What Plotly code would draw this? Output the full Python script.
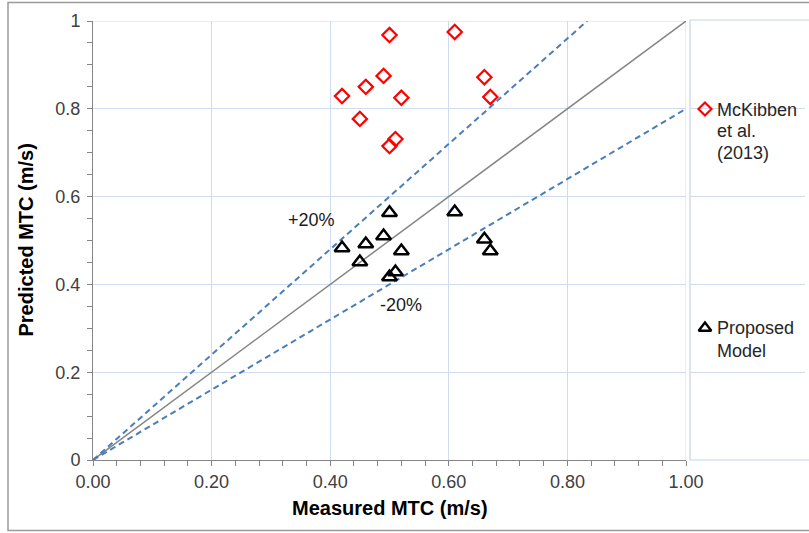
import plotly.graph_objects as go

# ---- data ----
measured = [0.42, 0.46, 0.49, 0.50, 0.45, 0.52, 0.50, 0.51, 0.61, 0.66, 0.67]
mckibben = [0.829, 0.850, 0.875, 0.968, 0.777, 0.825, 0.715, 0.731, 0.975, 0.872, 0.827]
proposed = [0.483, 0.492, 0.510, 0.563, 0.451, 0.476, 0.417, 0.428, 0.565, 0.503, 0.476]

parity_x = [0.0, 1.0]
parity_y = [0.0, 1.0]
upper_x = [0.0, 0.8333]
upper_y = [0.0, 1.0]
lower_x = [0.0, 1.0]
lower_y = [0.0, 0.8]

legend_names = ["McKibben<br>et al.<br>(2013)", "Proposed<br>Model"]
x_ticks = [0.0, 0.2, 0.4, 0.6, 0.8, 1.0]
y_ticks = [0.0, 0.2, 0.4, 0.6, 0.8, 1.0]

FONT = "Liberation Sans, Arial, sans-serif"
W, H = 809, 533
ML, MR, MT, MB = 93, 4, 21, 73
PW = W - ML - MR
PH = H - MT - MB
XDOM = 593 / PW

def px_x(p):
    return (p - ML) / PW

def px_y(p):
    return (H - MB - p) / PH

fig = go.Figure()

fig.add_trace(go.Scatter(x=parity_x, y=parity_y, mode="lines",
                         line=dict(color="#868686", width=1.5), showlegend=False, hoverinfo="skip"))
fig.add_trace(go.Scatter(x=upper_x, y=upper_y, mode="lines",
                         line=dict(color="#4a7ebb", width=2, dash="6px,4px"), showlegend=False, hoverinfo="skip"))
fig.add_trace(go.Scatter(x=lower_x, y=lower_y, mode="lines",
                         line=dict(color="#4a7ebb", width=2, dash="6px,4px"), showlegend=False, hoverinfo="skip"))

fig.add_trace(go.Scatter(x=measured, y=mckibben, mode="markers", name="McKibben et al. (2013)",
                         marker=dict(symbol="diamond-open", size=11, color="#ff0000", line=dict(width=2.2, color="#ff0000")),
                         showlegend=False))
fig.add_trace(go.Scatter(x=measured, y=proposed, mode="markers", name="Proposed Model",
                         marker=dict(symbol="triangle-up-open", size=13, color="#000000", line=dict(width=2.5, color="#000000")),
                         showlegend=False))

# manual legend markers on a helper x axis
leg_y = [px_y(109), px_y(328)]
fig.add_trace(go.Scatter(x=[0.122], y=[leg_y[0]], xaxis="x2", yaxis="y", mode="markers",
                         marker=dict(symbol="diamond-open", size=10, color="#ff0000", line=dict(width=2.2, color="#ff0000")),
                         showlegend=False, hoverinfo="skip"))
fig.add_trace(go.Scatter(x=[0.122], y=[leg_y[1]], xaxis="x2", yaxis="y", mode="markers",
                         marker=dict(symbol="triangle-up-open", size=11, color="#000000", line=dict(width=2.4, color="#000000")),
                         showlegend=False, hoverinfo="skip"))

grid = "#cfdbef"
axis_col = "#868686"
tickfont = dict(family=FONT, size=18, color="#404040")

fig.update_layout(
    width=W, height=H, autosize=False,
    margin=dict(l=ML, r=MR, t=MT, b=MB, autoexpand=False),
    paper_bgcolor="white", plot_bgcolor="white",
    font=dict(family=FONT, color="#404040"),
    showlegend=False,
    xaxis=dict(domain=[0, XDOM], range=[0, 1], tickvals=x_ticks, tickformat=".2f",
               showgrid=True, gridcolor=grid, gridwidth=1, zeroline=False,
               showline=True, linecolor=axis_col, linewidth=1, automargin=False,
               ticks="outside", ticklen=5, tickcolor=axis_col, tickfont=tickfont,
               ticklabelstandoff=0,
               minor=dict(dtick=0.04, ticks="outside", ticklen=5, tickcolor=axis_col, showgrid=False)),
    yaxis=dict(range=[0, 1], tickvals=y_ticks,
               showgrid=True, gridcolor=grid, gridwidth=1, zeroline=False,
               showline=True, linecolor=axis_col, linewidth=1, automargin=False,
               ticks="outside", ticklen=5, tickcolor=axis_col, tickfont=tickfont,
               ticklabelstandoff=3,
               minor=dict(dtick=0.05, ticks="outside", ticklen=5, tickcolor=axis_col, showgrid=False)),
    xaxis2=dict(domain=[0.84, 1.0], range=[0, 1], anchor="y", visible=False,
                showgrid=False, zeroline=False, automargin=False),
)

# plot-area top/right borders, legend box, outer frame
shapes = [
    dict(type="line", xref="x", yref="y", x0=0, x1=1, y0=1, y1=1, line=dict(color=grid, width=1), layer="below"),
    dict(type="line", xref="x", yref="y", x0=1, x1=1, y0=0, y1=1, line=dict(color=grid, width=1), layer="below"),
    dict(type="rect", xref="paper", yref="paper", x0=px_x(690), x1=px_x(830), y0=0, y1=px_y(20),
         line=dict(color="#c3d4ea", width=1.2), fillcolor="rgba(0,0,0,0)"),
    dict(type="rect", xref="paper", yref="paper", x0=px_x(8), x1=px_x(830), y0=px_y(530.5), y1=px_y(2.5),
         line=dict(color="#9a9a9a", width=1.5), fillcolor="rgba(0,0,0,0)"),
]
fig.update_layout(shapes=shapes)

ann = []
# axis titles
ann.append(dict(text="<b>Measured MTC (m/s)</b>", xref="x", yref="paper", x=0.5, y=px_y(508),
                xanchor="center", yanchor="middle", showarrow=False,
                font=dict(family=FONT, size=20, color="#000000")))
ann.append(dict(text="<b>Predicted MTC (m/s)</b>", xref="paper", yref="y", x=px_x(25), y=0.5,
                xanchor="center", yanchor="middle", showarrow=False, textangle=-90,
                font=dict(family=FONT, size=20, color="#000000")))
# line labels
ann.append(dict(text="+20%", xref="x", yref="y", x=0.369, y=0.547, showarrow=False,
                xanchor="center", yanchor="middle", font=dict(family=FONT, size=18, color="#1a1a1a")))
ann.append(dict(text="-20%", xref="x", yref="y", x=0.519, y=0.353, showarrow=False,
                xanchor="center", yanchor="middle", font=dict(family=FONT, size=18, color="#1a1a1a")))
# legend text (one annotation per line)
legend_line_px = [[110, 131, 153], [328, 351]]
for name, pys in zip(legend_names, legend_line_px):
    for line, py in zip(name.split("<br>"), pys):
        ann.append(dict(text=line, xref="paper", yref="y", x=px_x(715), y=px_y(py),
                        xanchor="left", yanchor="middle", showarrow=False,
                        font=dict(family=FONT, size=18, color="#262626")))
fig.update_layout(annotations=ann)

fig.write_html("out.html", config={"responsive": False})
